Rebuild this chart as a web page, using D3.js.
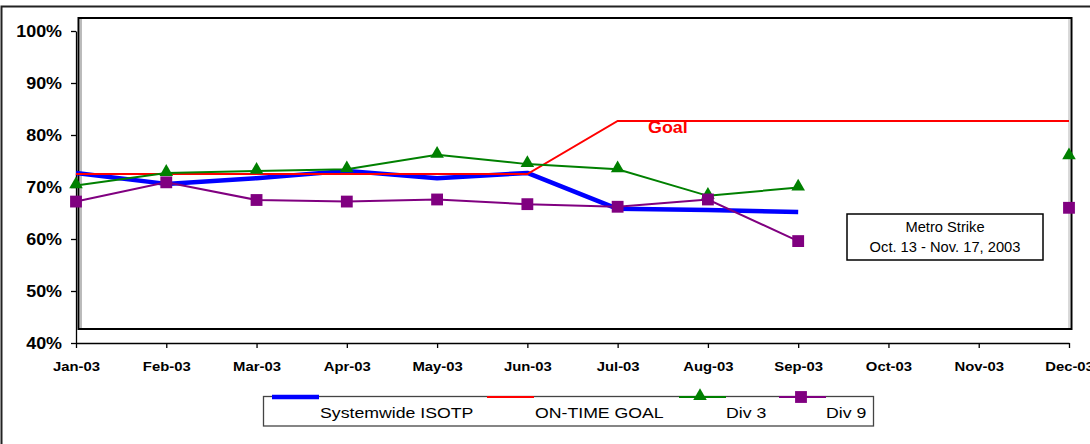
<!DOCTYPE html>
<html>
<head>
<meta charset="utf-8">
<script src="https://cdn.jsdelivr.net/npm/d3@7"></script>
<style>
  body { margin: 0; background: #fff; }
  svg { display: block; font-family: "Liberation Sans", Arial, sans-serif; }
</style>
</head>
<body>
<svg class="chart" width="1090" height="444"></svg>
<script>
// months on the x axis
var months = ["Jan-03", "Feb-03", "Mar-03", "Apr-03", "May-03", "Jun-03",
              "Jul-03", "Aug-03", "Sep-03", "Oct-03", "Nov-03", "Dec-03"];
var yTicks = [0.4, 0.5, 0.6, 0.7, 0.8, 0.9, 1.0];

// series values (null = no data, strike months)
var systemwide = [0.727, 0.706, 0.717, 0.731, 0.717, 0.727, 0.658, 0.656, 0.652, null, null, null];
var goal       = [0.725, 0.725, 0.725, 0.725, 0.725, 0.725, 0.827, 0.827, 0.827, 0.827, 0.827, 0.827];
var div3       = [0.703, 0.727, 0.731, 0.734, 0.762, 0.744, 0.734, 0.683, 0.699, null, null, 0.759];
var div9       = [0.672, 0.709, 0.675, 0.672, 0.676, 0.667, 0.662, 0.676, 0.596, null, null, 0.660];

var seriesNames = ["Systemwide ISOTP", "ON-TIME GOAL", "Div 3", "Div 9"];

var svg = d3.select("svg.chart");

//the original picture is a bit wider than tall, so text gets stretched sideways
function stretch(sel, s) {
    sel.each(function() {
        var t = d3.select(this);
        var x0 = +t.attr("x") || 0;
        t.attr("x", x0 / s).attr("transform", "scale(" + s + ",1)");
    });
}

//outer frame (right and bottom edges fall outside the picture)
svg.append("path")
    .attr("d", "M1.5,444V6.5H1090")
    .attr("fill", "none")
    .attr("stroke", "#222")
    .attr("stroke-width", 2);

var x = d3.scalePoint().domain(months).range([76, 1069]);
var y = d3.scaleLinear().domain([0.4, 1.0]).range([343, 31]);

//plot area box with the grey "wall" edge
svg.append("rect")
    .attr("x", 78.5).attr("y", 18)
    .attr("width", 993).attr("height", 311)
    .attr("fill", "none")
    .attr("stroke", "#000")
    .attr("stroke-width", 2);
svg.append("line")
    .attr("x1", 81).attr("x2", 81).attr("y1", 19).attr("y2", 328)
    .attr("stroke", "#bbb").attr("stroke-width", 2);
svg.append("line")
    .attr("x1", 1069).attr("x2", 1069).attr("y1", 19).attr("y2", 328)
    .attr("stroke", "#ccc").attr("stroke-width", 1.5);

//Axes
var yAxis = d3.axisLeft(y)
    .tickValues(yTicks)
    .tickFormat(d3.format(".0%"))
    .tickSize(5)
    .tickSizeOuter(0)
    .tickPadding(9);
var gy = svg.append("g")
    .attr("transform", "translate(76,0)")
    .call(yAxis);
gy.selectAll("text")
    .style("font-family", "Liberation Sans, Arial, sans-serif")
    .style("font-size", "16px")
    .style("font-weight", "bold")
    .attr("fill", "#000")
    .call(stretch, 1.12);

var xAxis = d3.axisBottom(x)
    .tickSize(5)
    .tickSizeOuter(0)
    .tickPadding(13);
var gx = svg.append("g")
    .attr("transform", "translate(0,343)")
    .call(xAxis);
gx.selectAll("text")
    .style("font-family", "Liberation Sans, Arial, sans-serif")
    .style("font-size", "13.5px")
    .style("font-weight", "bold")
    .attr("fill", "#000")
    .call(stretch, 1.1);
svg.selectAll(".domain, .tick line").attr("stroke", "#000").attr("stroke-width", 1.3);

//Lines
function lineFor(values) {
    return d3.line()
        .defined(function(d) { return d !== null; })
        .x(function(d, i) { return x(months[i]); })
        .y(function(d) { return y(d); })(values);
}

svg.append("path").attr("d", lineFor(systemwide))
    .attr("fill", "none").attr("stroke", "#0000ff").attr("stroke-width", 4.5)
    .attr("stroke-linejoin", "round");
svg.append("path").attr("d", lineFor(goal))
    .attr("fill", "none").attr("stroke", "#ff0000").attr("stroke-width", 2);
svg.append("path").attr("d", lineFor(div3))
    .attr("fill", "none").attr("stroke", "#008000").attr("stroke-width", 2);
svg.append("path").attr("d", lineFor(div9))
    .attr("fill", "none").attr("stroke", "#800080").attr("stroke-width", 2);

var tri = d3.symbol().type(d3.symbolTriangle).size(80);
var sq = d3.symbol().type(d3.symbolSquare).size(140);

svg.selectAll(".tri").data(div3.map(function(v, i) { return {v: v, m: months[i]}; })
        .filter(function(d) { return d.v !== null; }))
    .enter().append("path")
    .attr("class", "tri")
    .attr("d", tri)
    .attr("transform", function(d) { return "translate(" + x(d.m) + "," + (y(d.v) - 1) + ")"; })
    .attr("fill", "#008000");

svg.selectAll(".sq").data(div9.map(function(v, i) { return {v: v, m: months[i]}; })
        .filter(function(d) { return d.v !== null; }))
    .enter().append("path")
    .attr("class", "sq")
    .attr("d", sq)
    .attr("transform", function(d) { return "translate(" + x(d.m) + "," + y(d.v) + ")"; })
    .attr("fill", "#800080");

//Goal label
svg.append("text")
    .attr("x", 648).attr("y", 133)
    .attr("fill", "#ff0000")
    .style("font-size", "16px")
    .style("font-weight", "bold")
    .text("Goal")
    .call(stretch, 1.12);

//Strike note
svg.append("rect")
    .attr("x", 847).attr("y", 214).attr("width", 196).attr("height", 46)
    .attr("fill", "#fff").attr("stroke", "#000").attr("stroke-width", 1.5);
svg.append("text")
    .attr("x", 945).attr("y", 232)
    .attr("text-anchor", "middle")
    .style("font-size", "14px")
    .text("Metro Strike")
    .call(stretch, 1.05);
svg.append("text")
    .attr("x", 945).attr("y", 252)
    .attr("text-anchor", "middle")
    .style("font-size", "14px")
    .text("Oct. 13 - Nov. 17, 2003")
    .call(stretch, 1.05);

//Legend
var legend = svg.append("g");
legend.append("rect")
    .attr("x", 263.5).attr("y", 396.5).attr("width", 610).attr("height", 29.5)
    .attr("fill", "#fff").attr("stroke", "#444").attr("stroke-width", 1.3);

var legendX = [272, 487, 679, 779];
var legendColor = ["#0000ff", "#ff0000", "#008000", "#800080"];
var legendWidth = [4.5, 2, 2, 2];

seriesNames.forEach(function(name, i) {
    legend.append("line")
        .attr("x1", legendX[i]).attr("x2", legendX[i] + 47)
        .attr("y1", 397).attr("y2", 397)
        .attr("stroke", legendColor[i]).attr("stroke-width", legendWidth[i]);
    if (i === 2) {
        legend.append("path").attr("d", tri)
            .attr("transform", "translate(" + (legendX[i] + 21) + ",396)")
            .attr("fill", legendColor[i]);
    }
    if (i === 3) {
        legend.append("path").attr("d", sq)
            .attr("transform", "translate(" + (legendX[i] + 22) + ",397)")
            .attr("fill", legendColor[i]);
    }
});

var labelX = [320, 535, 726, 826];
seriesNames.forEach(function(name, i) {
    legend.append("text")
        .attr("x", labelX[i]).attr("y", 418)
        .style("font-size", "15px")
        .text(name)
        .call(stretch, 1.18);
});
</script>
</body>
</html>
